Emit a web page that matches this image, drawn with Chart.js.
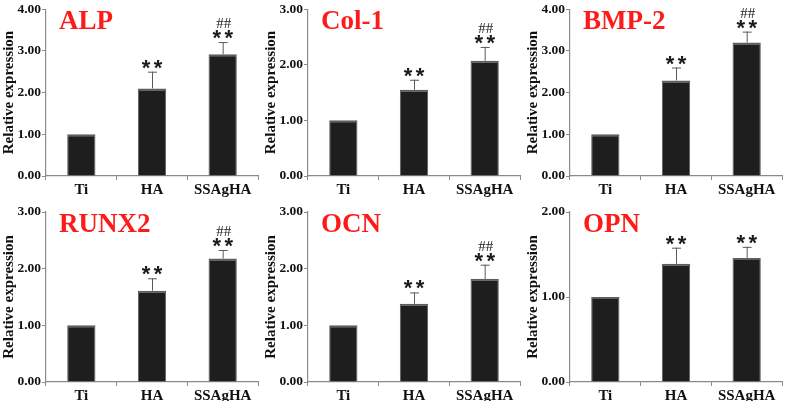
<!DOCTYPE html>
<html>
<head>
<meta charset="utf-8">
<script src="https://cdn.jsdelivr.net/npm/chart.js@4.4.1/dist/chart.umd.min.js"></script>
<style>
    html, body { margin: 0; padding: 0; background: #fff; }
    #wrap { position: relative; width: 787px; height: 401px; }
    .panel { position: absolute; }
</style>
</head>
<body>
<div id="wrap"></div>
<script>
// Data
const categories = ['Ti', 'HA', 'SSAgHA'];
const panelNames = ['ALP', 'Col-1', 'BMP-2', 'RUNX2', 'OCN', 'OPN'];
const yMaxes = [4, 3, 4, 3, 3, 2];

const alpValues = [1.00, 2.10, 2.92];
const alpErrors = [0, 0.40, 0.29];
const col1Values = [1.00, 1.55, 2.07];
const col1Errors = [0, 0.18, 0.25];
const bmp2Values = [1.00, 2.29, 3.20];
const bmp2Errors = [0, 0.31, 0.26];
const runx2Values = [1.00, 1.61, 2.18];
const runx2Errors = [0, 0.22, 0.15];
const ocnValues = [1.00, 1.38, 1.82];
const ocnErrors = [0, 0.20, 0.25];
const opnValues = [1.00, 1.39, 1.46];
const opnErrors = [0, 0.19, 0.13];

const starMarks = ['', '**', '**'];
const hashMarks = ['', '', '##'];
const opnHashMarks = ['', '', ''];

const allValues = [alpValues, col1Values, bmp2Values, runx2Values, ocnValues, opnValues];
const allErrors = [alpErrors, col1Errors, bmp2Errors, runx2Errors, ocnErrors, opnErrors];
const allHashes = [hashMarks, hashMarks, hashMarks, hashMarks, hashMarks, opnHashMarks];

const serif = '"Liberation Serif", "Times New Roman", serif';
const axisGray = '#8a8a8a';

// error bars, significance marks and the red panel title
const extrasPlugin = {
    id: 'extras',
    afterDatasetsDraw(chart) {
        const ctx = chart.ctx;
        const yScale = chart.scales.y;
        const meta = chart.getDatasetMeta(0);
        const opts = chart.options.plugins.extras;
        ctx.save();
        meta.data.forEach((bar, i) => {
            const v = opts.values[i];
            const e = opts.errors[i];
            const x = bar.x;
            let topY = yScale.getPixelForValue(v);
            if (e > 0) {
                topY = yScale.getPixelForValue(v + e);
                ctx.strokeStyle = '#5a5a5a';
                ctx.lineWidth = 1;
                ctx.beginPath();
                ctx.moveTo(x + 0.5, yScale.getPixelForValue(v));
                ctx.lineTo(x + 0.5, topY);
                ctx.moveTo(x - 4, topY + 0.5);
                ctx.lineTo(x + 5, topY + 0.5);
                ctx.stroke();
            }
            let markBottom = topY - 3;
            if (opts.stars[i]) {
                ctx.fillStyle = '#1a1a1a';
                ctx.font = 'bold 22px "Liberation Sans", Arial, sans-serif';
                ctx.textAlign = 'center';
                ctx.textBaseline = 'alphabetic';
                const m = ctx.measureText('*');
                const baseY = markBottom - m.actualBoundingBoxDescent;
                ctx.fillText('*', x - 6, baseY);
                ctx.fillText('*', x + 6, baseY);
                markBottom = baseY - m.actualBoundingBoxAscent - 2;
            }
            if (opts.hashes[i]) {
                ctx.fillStyle = '#222';
                ctx.font = '15px ' + serif;
                ctx.textAlign = 'center';
                ctx.textBaseline = 'alphabetic';
                const m2 = ctx.measureText('##');
                ctx.fillText('##', x + 1, markBottom - m2.actualBoundingBoxDescent);
            }
        });
        // panel title
        ctx.fillStyle = '#ff1a1a';
        ctx.font = 'bold 27px ' + serif;
        ctx.textAlign = 'left';
        ctx.textBaseline = 'alphabetic';
        ctx.fillText(opts.title, chart.chartArea.left + 13, chart.chartArea.top + 20);
        ctx.restore();
    }
};

function makePanel(idx) {
    const col = idx % 3;
    const row = Math.floor(idx / 3);
    const w = col === 2 ? 263 : 262;
    const h = row === 1 ? 201 : 200;
    const div = document.createElement('div');
    div.className = 'panel';
    div.style.left = (col * 262) + 'px';
    div.style.top = (row * 200) + 'px';
    const canvas = document.createElement('canvas');
    canvas.width = w;
    canvas.height = h;
    canvas.style.width = w + 'px';
    canvas.style.height = h + 'px';
    div.appendChild(canvas);
    document.getElementById('wrap').appendChild(div);

    const topPad = row === 0 ? 7 : 12;
    const xHeight = row === 0 ? 24 : 19;

    new Chart(canvas.getContext('2d'), {
        type: 'bar',
        data: {
            labels: categories,
            datasets: [{
                data: allValues[idx],
                backgroundColor: '#1e1e1e',
                borderColor: '#5e5e5e',
                borderWidth: { top: 2, left: 1, right: 1, bottom: 0 },
                borderSkipped: 'start',
                barPercentage: 0.4,
                categoryPercentage: 1.0
            }]
        },
        options: {
            responsive: false,
            animation: false,
            devicePixelRatio: 1,
            layout: { padding: { top: topPad, left: 0, right: w - 258, bottom: 0 } },
            plugins: {
                legend: { display: false },
                tooltip: { enabled: false },
                extras: {
                    title: panelNames[idx],
                    values: allValues[idx],
                    errors: allErrors[idx],
                    stars: starMarks,
                    hashes: allHashes[idx]
                }
            },
            scales: {
                x: {
                    grid: { display: true, drawOnChartArea: false, drawTicks: true, tickLength: 4, color: axisGray, offset: true },
                    border: { color: axisGray, width: 1.2 },
                    ticks: {
                        color: '#111',
                        padding: 1,
                        font: { family: serif, size: 15, weight: 'bold' }
                    },
                    afterFit(scale) { scale.height = xHeight; }
                },
                y: {
                    min: 0,
                    max: yMaxes[idx],
                    grid: { display: true, drawOnChartArea: false, drawTicks: true, tickLength: 4, color: axisGray },
                    border: { color: axisGray, width: 1.2 },
                    ticks: {
                        stepSize: 1,
                        color: '#111',
                        padding: 1,
                        font: { family: serif, size: 13.5, weight: 'bold' },
                        callback: v => Number(v).toFixed(2)
                    },
                    title: {
                        display: true,
                        text: 'Relative expression',
                        color: '#111',
                        padding: { top: 0, bottom: 0 },
                        font: { family: serif, size: 15, weight: 'bold' }
                    },
                    afterFit(scale) { scale.width = 46; }
                }
            }
        },
        plugins: [extrasPlugin]
    });
}

document.addEventListener('DOMContentLoaded', function() {
    for (let i = 0; i < panelNames.length; i++) {
        makePanel(i);
    }
});
</script>
</body>
</html>
